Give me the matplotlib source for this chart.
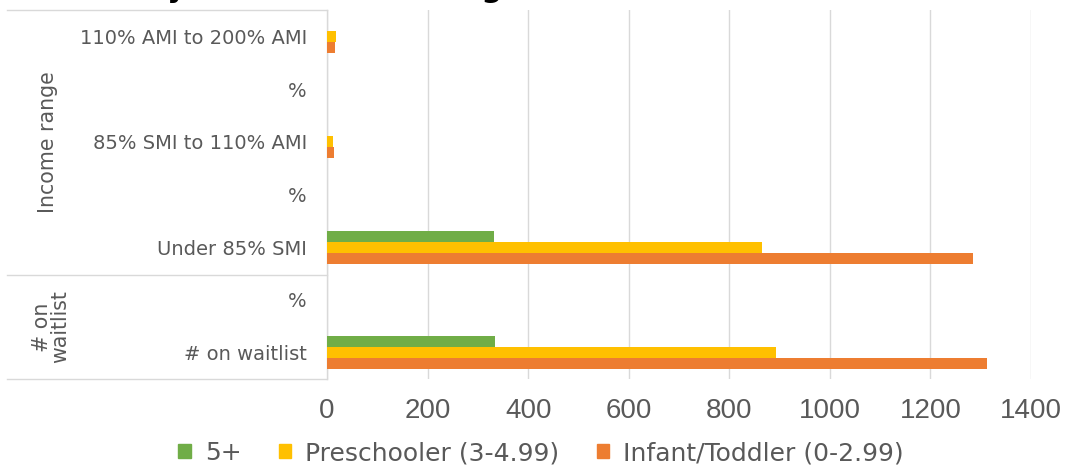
import matplotlib
matplotlib.use("Agg")
import matplotlib.pyplot as plt
from matplotlib.lines import Line2D
from matplotlib.patches import Patch
import numpy as np

# ---- data ----
categories = ["# on waitlist", "%", "Under 85% SMI", "%",
              "85% SMI to 110% AMI", "%", "110% AMI to 200% AMI"]
five_plus = [334, 0, 332, 0, 0, 0, 0]
preschooler = [893, 0, 865, 0, 11, 0, 17]
infant_toddler = [1312, 0, 1285, 0, 13, 0, 15]
series_names = ["5+", "Preschooler (3-4.99)", "Infant/Toddler (0-2.99)"]
x_ticks = [0, 200, 400, 600, 800, 1000, 1200, 1400]
group_labels = ["Income range", "# on\nwaitlist"]
title_text = "Waitlist by Child Income Ranges"

colors = ["#70AD47", "#FFC000", "#ED7D31"]
grey = "#595959"
line_grey = "#D9D9D9"

W, H = 1069, 471
fig = plt.figure(figsize=(W / 100, H / 100), dpi=100)
ax = fig.add_axes([327 / W, 1 - 379 / H, (1031 - 327) / W, (379 - 10) / H])

y = np.arange(len(categories))
bh = 0.21
ax.barh(y + bh, five_plus, height=bh, color=colors[0], label=series_names[0], zorder=3)
ax.barh(y, preschooler, height=bh, color=colors[1], label=series_names[1], zorder=3)
ax.barh(y - bh, infant_toddler, height=bh, color=colors[2], label=series_names[2], zorder=3)

ax.set_xlim(0, 1400)
ax.set_ylim(-0.5, len(categories) - 0.5)
ax.set_xticks(x_ticks)
ax.set_xticklabels([str(t) for t in x_ticks],
                   fontfamily=["Liberation Sans Narrow", "Liberation Sans"],
                   fontsize=20, color=grey)
ax.tick_params(axis="x", length=0, pad=14)
ax.set_yticks(y)
ax.set_yticklabels(categories, fontsize=14, color=grey, fontfamily="DejaVu Sans")
ax.tick_params(axis="y", length=0, pad=14.5)
ax.grid(axis="x", color=line_grey, linewidth=1, zorder=0)
for s in ["top", "right", "bottom"]:
    ax.spines[s].set_visible(False)
ax.spines["left"].set_color(line_grey)
ax.spines["left"].set_linewidth(1)

# multi-level category box lines
for yp in [10, 275, 379]:
    fig.add_artist(Line2D([7 / W, 327 / W], [1 - yp / H, 1 - yp / H],
                          color=line_grey, linewidth=1))
fig.text(48 / W, 1 - 142 / H, group_labels[0], rotation=90, ha="center",
         va="center", fontsize=14.8, color=grey)
fig.text(51 / W, 1 - 327 / H, group_labels[1], rotation=90, ha="center",
         va="center", fontsize=14.8, color=grey, linespacing=0.85)

# cropped title (only descenders visible, as in the reference)
fig.text(10 / W, 1 + 2.5 / H, title_text, ha="left",
         va="baseline", fontsize=21, fontweight="bold", color="black")

handles = [Patch(facecolor=c, edgecolor=c) for c in colors]
fig.legend(handles, series_names, loc="center", bbox_to_anchor=(541 / W, 1 - 453 / H),
           ncol=3, frameon=False, fontsize=18, labelcolor=grey,
           handlelength=0.5, handleheight=0.5, handletextpad=0.55,
           columnspacing=1.5)

fig.savefig("out.png", dpi=100)
